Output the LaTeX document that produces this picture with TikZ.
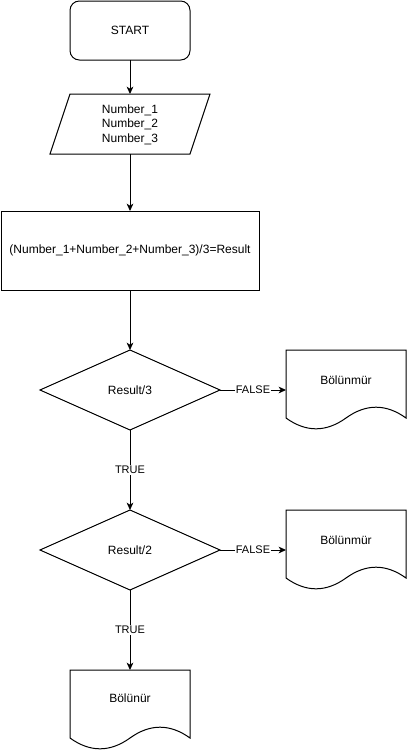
\documentclass[tikz,border=0pt]{standalone}
\usepackage{fontspec}
\setmainfont{Liberation Sans}
\usetikzlibrary{calc,arrows.meta}
\newcommand\mydocshape[1]{%
  \draw[shapeline] (#1.north west) -- (#1.north east) -- ($(#1.north west)+(120,68)$)
    .. controls ($(#1.north west)+(100,53.6)$) and ($(#1.north west)+(80,53.6)$) .. ($(#1.north west)+(60,68)$)
    .. controls ($(#1.north west)+(40,82.4)$) and ($(#1.north west)+(20,82.4)$) .. ($(#1.north west)+(0,68)$) -- cycle;}
\begin{document}
\begin{tikzpicture}[x=0.75pt,y=-0.75pt,
  font=\fontsize{9pt}{10.9pt}\selectfont,
  shapeline/.style={draw=black,line width=0.75pt,line join=miter},
  box/.style={inner sep=0pt,outer sep=0pt,align=center},
  conn/.style={draw=black,line width=0.75pt,-{Stealth[length=5.5pt,width=5pt,inset=1.5pt]}},
  lbl/.style={fill=white,inner sep=1pt,font=\fontsize{8.25pt}{10pt}\selectfont}]
\useasboundingbox[fill=white] (0,0) rectangle (407,751);
% start
\node[box,shapeline,rounded corners=7pt,minimum width=90pt,minimum height=44.25pt] (start) at (130,30.5) {START};
% input
\node[box,minimum width=120pt,minimum height=45pt] (inp) at (130,124) {};
\draw[shapeline] ($(inp.north west)+(20,0)$) -- (inp.north east) -- ($(inp.south east)+(-20,0)$) -- (inp.south west) -- cycle;
\node[box] (inptext) at (130,124.5) {Number\_1\\Number\_2\\Number\_3};
% process
\node[box,shapeline,minimum width=193.5pt,minimum height=59.25pt] (proc) at (130,250.5) {(Number\_1+Number\_2+Number\_3)/3=Result};
% decisions
\node[box,minimum width=135pt,minimum height=60pt] (d1) at (130,390) {Result/3};
\draw[shapeline] (d1.north) -- (d1.east) -- (d1.south) -- (d1.west) -- cycle;
\node[box,minimum width=135pt,minimum height=60pt] (d2) at (130,550) {Result/2};
\draw[shapeline] (d2.north) -- (d2.east) -- (d2.south) -- (d2.west) -- cycle;
% documents
\node[box,minimum width=90pt,minimum height=60pt] (doc1) at (346,390) {};
\mydocshape{doc1}
\node[box] (doc1text) at (346,380) {Bölünmür};
\node[box,minimum width=90pt,minimum height=60pt] (doc2) at (346,550) {};
\mydocshape{doc2}
\node[box] (doc2text) at (346,540) {Bölünmür};
\node[box,minimum width=90pt,minimum height=60pt] (doc3) at (130,710) {};
\mydocshape{doc3}
\node[box] (doc3text) at (130,698) {Bölünür};
% connectors
\draw[conn] (start.south) -- (inp.north);
\draw[conn] (inp.south) -- (proc.north);
\draw[conn] (proc.south) -- (d1.north);
\draw[conn] (d1.east) -- node[lbl]{FALSE} (doc1.west);
\draw[conn] (d1.south) -- node[lbl]{TRUE} (d2.north);
\draw[conn] (d2.east) -- node[lbl]{FALSE} (doc2.west);
\draw[conn] (d2.south) -- node[lbl]{TRUE} (doc3.north);
\end{tikzpicture}
\end{document}
